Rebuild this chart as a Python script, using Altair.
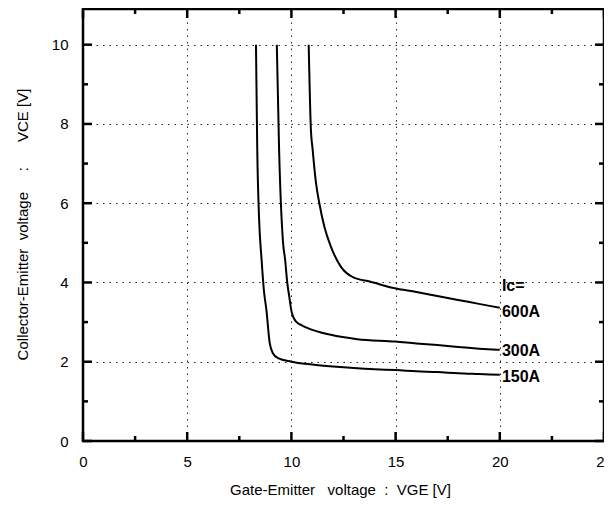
import altair as alt
import pandas as pd

# ---- data ----
series_names = ["150A", "300A", "600A"]

vge_150 = [8.30, 8.36, 8.45, 8.57, 8.68, 8.80, 8.96, 9.12, 9.36, 10.0, 11.0, 12.0, 13.0, 14.0, 15.0, 16.0, 17.0, 18.0, 19.0, 20.0]
vce_150 = [10.0, 7.40, 5.60, 4.57, 3.80, 3.31, 2.47, 2.21, 2.09, 2.00, 1.93, 1.88, 1.84, 1.81, 1.79, 1.76, 1.74, 1.71, 1.69, 1.67]

vge_300 = [9.30, 9.41, 9.60, 9.70, 9.80, 9.91, 9.99, 10.1, 10.23, 10.5, 10.78, 11.89, 13.16, 15.0, 16.0, 17.0, 18.0, 19.0, 20.0]
vce_300 = [10.0, 7.35, 5.00, 4.57, 4.00, 3.60, 3.31, 3.12, 3.01, 2.92, 2.85, 2.68, 2.57, 2.51, 2.46, 2.42, 2.37, 2.33, 2.30]

vge_600 = [10.83, 10.93, 11.02, 11.18, 11.34, 11.58, 11.89, 12.37, 13.0, 13.79, 14.9, 16.0, 17.0, 18.0, 19.0, 20.0]
vce_600 = [10.0, 7.93, 7.35, 6.51, 6.00, 5.41, 4.91, 4.40, 4.12, 4.02, 3.86, 3.76, 3.66, 3.56, 3.46, 3.36]

label_text = ["Ic=", "600A", "300A", "150A"]
label_x = [20.1, 20.1, 20.1, 20.1]
label_y = [3.90, 3.25, 2.28, 1.62]

x_major = [0, 5, 10, 15, 20, 25]
x_minor = [2.5, 7.5, 12.5, 17.5, 22.5]
y_major = [0, 2, 4, 6, 8, 10]
y_minor = [1, 3, 5, 7, 9]

X_MAX, Y_MAX = 25.0, 10.9

# ---- build tables ----
rows = []
for name, xs, ys in [("150A", vge_150, vce_150), ("300A", vge_300, vce_300), ("600A", vge_600, vce_600)]:
    for i, (a, b) in enumerate(zip(xs, ys)):
        rows.append({"series": name, "vge": a, "vce": b, "order": i})
df = pd.DataFrame(rows)
labels_df = pd.DataFrame({"text": label_text, "vge": label_x, "vce": label_y})

W, H = 521, 432
XS = alt.Scale(domain=[0, X_MAX], nice=False, zero=False)
YS = alt.Scale(domain=[0, Y_MAX], nice=False, zero=False)

# tick lengths (major, minor) expressed in axis units
LXM, LXN = 9 * Y_MAX / H, 5 * Y_MAX / H   # vertical ticks on bottom/top edges
LYM, LYN = 9 * X_MAX / W, 5 * X_MAX / W   # horizontal ticks on left/right edges

FONT = "Liberation Sans"
NB = "\u00a0"

x_title = f"Gate-Emitter{NB*3}voltage{NB*2}:{NB*2}VGE [V]"
y_title = f"Collector-Emitter{NB*2}voltage{NB*5}:{NB*6}VCE [V]"

lines = alt.Chart(df).mark_line(color="black", strokeWidth=2, interpolate="monotone").encode(
    x=alt.X("vge:Q", scale=XS, axis=alt.Axis(
        orient="bottom", values=x_major, ticks=False, tickSize=0, domain=False,
        labelPadding=13, labelFont=FONT, labelFontSize=15, labelColor="black",
        grid=True, gridColor="black", gridDash=[1.5, 5], gridWidth=1, gridOpacity=0.85,
        format="d", labelFlush=False,
        title=x_title, titleFont=FONT, titleFontSize=15, titleFontWeight="normal",
        titleColor="black", titleX=257, titleY=48, titleAlign="center", titleBaseline="middle")),
    y=alt.Y("vce:Q", scale=YS, axis=alt.Axis(
        orient="left", values=y_major, ticks=False, tickSize=0, domain=False,
        labelPadding=15, labelFont=FONT, labelFontSize=15, labelColor="black",
        grid=True, gridColor="black", gridDash=[1.5, 5], gridWidth=1, gridOpacity=0.85,
        format="d", labelFlush=False,
        title=y_title, titleFont=FONT, titleFontSize=15, titleFontWeight="normal",
        titleColor="black", titleX=-61, titleY=215, titleAlign="center", titleBaseline="middle")),
    detail="series:N",
    order="order:Q",
)

# inward frame ticks, each a two-point line segment in data space
tick_rows = []
def add_tick(tid, x0, y0, x1, y1):
    tick_rows.append(dict(tid=tid, pt=0, vge=x0, vce=y0))
    tick_rows.append(dict(tid=tid, pt=1, vge=x1, vce=y1))

k = 0
for vals, L in [(x_major, LXM), (x_minor, LXN)]:
    for v in vals:
        add_tick(k, v, 0, v, L); k += 1
        add_tick(k, v, Y_MAX, v, Y_MAX - L); k += 1
for vals, L in [(y_major, LYM), (y_minor, LYN)]:
    for v in vals:
        add_tick(k, 0, v, L, v); k += 1
        add_tick(k, X_MAX, v, X_MAX - L, v); k += 1
ticks_df = pd.DataFrame(tick_rows)

ticks = alt.Chart(ticks_df).mark_line(color="black", strokeWidth=2.5).encode(
    x=alt.X("vge:Q", scale=XS),
    y=alt.Y("vce:Q", scale=YS),
    detail="tid:N",
    order="pt:Q",
)

texts = alt.Chart(labels_df).mark_text(
    align="left", baseline="middle", font=FONT, fontWeight="bold",
    fontSize=16, color="black"
).encode(
    x=alt.X("vge:Q", scale=XS),
    y=alt.Y("vce:Q", scale=YS),
    text="text:N",
)

chart = alt.layer(lines, ticks, texts).properties(
    width=W, height=H,
    autosize=alt.AutoSizeParams(type="none"),
    padding={"left": 75, "top": 1, "right": 0, "bottom": 57},
).configure_view(stroke="black", strokeWidth=2.5)

chart.save("out.html", embed_options={"renderer": "svg", "actions": False})
